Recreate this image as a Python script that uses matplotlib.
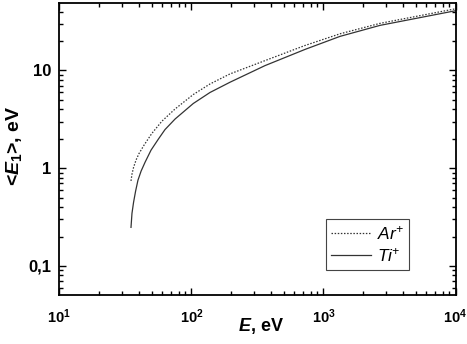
import matplotlib
matplotlib.use("Agg")
import matplotlib.pyplot as plt
from matplotlib.ticker import FixedLocator, FixedFormatter, LogLocator, NullFormatter

plt.rcParams['font.family'] = ['Liberation Sans', 'DejaVu Sans']
plt.rcParams['mathtext.fontset'] = 'custom'
plt.rcParams['mathtext.rm'] = 'Liberation Sans:bold'
plt.rcParams['mathtext.bf'] = 'Liberation Sans:bold'
plt.rcParams['mathtext.it'] = 'Liberation Sans:bold:italic'

# Data
ar_E = [34.9, 35.5, 36.5, 38.1, 40.1, 43.8, 50.1, 59.9, 75.2, 103.4, 138.4, 196, 361, 725, 1335, 2681, 10000]
ar_V = [0.741, 0.868, 1.02, 1.21, 1.41, 1.72, 2.26, 3.03, 4.03, 5.67, 7.27, 9.21, 12.6, 18.0, 23.7, 30.3, 42.7]
ti_E = [34.9, 35.5, 36.5, 37.8, 39.4, 41.6, 44.6, 49.5, 56.2, 63.1, 75.2, 103.4, 138.4, 196, 361, 725, 1335, 2681, 10000]
ti_V = [0.248, 0.345, 0.448, 0.581, 0.753, 0.932, 1.15, 1.53, 1.98, 2.48, 3.18, 4.59, 5.95, 7.57, 11.2, 16.4, 22.3, 28.9, 40.8]

y_ticks = [0.1, 1, 10]
y_tick_labels = ['0,1', '1', '10']
x_ticks = [10, 100, 1000, 10000]
x_tick_labels = [r'$\mathdefault{10^{1}}$', r'$\mathdefault{10^{2}}$',
                 r'$\mathdefault{10^{3}}$', r'$\mathdefault{10^{4}}$']

fig = plt.figure(figsize=(4.67, 3.44), dpi=100)
ax = fig.add_axes([0.127, 0.1424, 0.9754 - 0.127, 0.9904 - 0.1424])

ax.plot(ar_E, ar_V, color='#333333', lw=0.9, linestyle=(0, (1.2, 1.3)),
        label=r'$\mathdefault{Ar}^{\mathdefault{+}}$')
ax.plot(ti_E, ti_V, color='#333333', lw=0.9, linestyle='-',
        label=r'$\mathdefault{Ti}^{\mathdefault{+}}$')

ax.set_xscale('log')
ax.set_yscale('log')
ax.set_xlim(10, 10000)
ax.set_ylim(0.0504, 48.6)

ax.xaxis.set_major_locator(FixedLocator(x_ticks))
ax.xaxis.set_major_formatter(FixedFormatter(x_tick_labels))
ax.xaxis.set_minor_locator(LogLocator(base=10, subs=range(2, 10), numticks=20))
ax.xaxis.set_minor_formatter(NullFormatter())
ax.yaxis.set_major_locator(FixedLocator(y_ticks))
ax.yaxis.set_major_formatter(FixedFormatter(y_tick_labels))
ax.yaxis.set_minor_locator(LogLocator(base=10, subs=range(2, 10), numticks=20))
ax.yaxis.set_minor_formatter(NullFormatter())

ax.tick_params(which='both', direction='in', top=True, right=True, width=1.0)
ax.tick_params(which='major', length=5)
ax.tick_params(which='minor', length=3)
ax.tick_params(axis='y', labelsize=12, pad=6)
ax.tick_params(axis='x', labelsize=10.5, pad=9)
for lab in ax.get_xticklabels() + ax.get_yticklabels():
    lab.set_fontweight('bold')

for s in ax.spines.values():
    s.set_linewidth(1.3)

ax.set_xlabel(r'$E$, eV', fontsize=13, fontweight='bold')
ax.set_ylabel(r'<$E_{\mathit{1}}$>, eV', fontsize=14, fontweight='bold')
ax.xaxis.set_label_coords(0.510, -0.106)
ax.xaxis.label.set_va('center')
ax.yaxis.set_label_coords(-0.114, 0.511)
ax.yaxis.label.set_va('center')

leg = ax.legend(loc='upper left', bbox_to_anchor=(325.7 / 467, 1 - 219 / 344),
                bbox_transform=fig.transFigure, fancybox=False, framealpha=1,
                edgecolor='#444444', handlelength=2.3, handletextpad=0.35,
                borderpad=0.3, labelspacing=0.25, borderaxespad=0,
                prop={'size': 12.5, 'style': 'italic', 'weight': 'normal'})
leg.get_frame().set_linewidth(0.8)

fig.savefig('out.png', dpi=100)
